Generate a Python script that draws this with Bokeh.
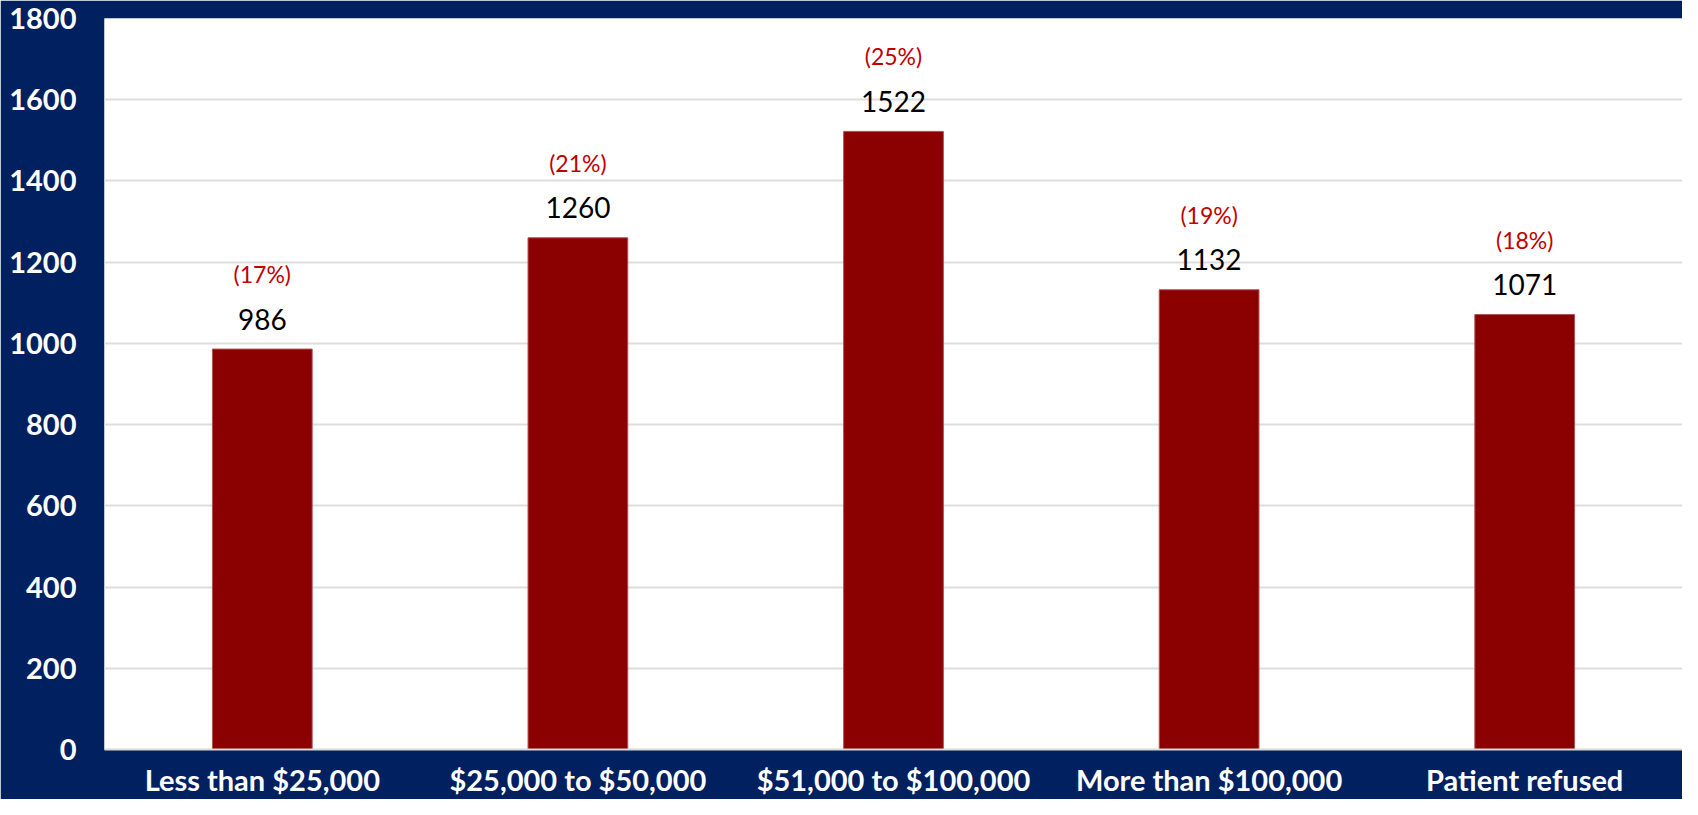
from bokeh.plotting import figure
from bokeh.models import ColumnDataSource, FixedTicker
from bokeh.core.properties import value
from bokeh.embed import file_html
from bokeh.resources import INLINE

categories = ["Less than $25,000", "$25,000 to $50,000", "$51,000 to $100,000",
              "More than $100,000", "Patient refused"]
counts = [986, 1260, 1522, 1132, 1071]
pct_labels = ["(17%)", "(21%)", "(25%)", "(19%)", "(18%)"]
y_ticks = [0, 200, 400, 600, 800, 1000, 1200, 1400, 1600, 1800]

NAVY = "#002060"
FONT = "Lato"

src = ColumnDataSource(dict(cat=categories, n=counts,
                            nlab=[str(v) for v in counts], plab=pct_labels))

p = figure(x_range=categories, y_range=(0, 1800), width=1682, height=799,
           output_backend="svg", toolbar_location=None,
           min_border_left=104, min_border_right=0, min_border_top=18,
           min_border_bottom=40)
p.border_fill_color = NAVY
p.background_fill_color = "white"
p.outline_line_color = None

p.vbar(x="cat", top="n", width=0.316, source=src, fill_color="#8B0000",
       line_color="#B05050", line_width=1)

p.text(x="cat", y="n", text="nlab", source=src, text_align="center",
       text_baseline="middle", y_offset=-30, text_color="black",
       text_font=value(FONT), text_font_size="28px")
p.text(x="cat", y="n", text="plab", source=src, text_align="center",
       text_baseline="middle", y_offset=-75, text_color="#C00000",
       text_font=value(FONT), text_font_size="23px")

p.yaxis.ticker = FixedTicker(ticks=y_ticks)
p.ygrid.ticker = FixedTicker(ticks=y_ticks)
p.ygrid.grid_line_color = "#DDDDDD"
p.ygrid.grid_line_width = 2
p.xgrid.grid_line_color = None

for ax in (p.xaxis, p.yaxis):
    ax.axis_line_color = None
    ax.major_tick_line_color = None
    ax.minor_tick_line_color = None
    ax.major_label_text_color = "white"
    ax.major_label_text_font = FONT
    ax.major_label_text_font_style = "bold"
    ax.major_label_text_font_size = "29px"

p.yaxis.major_label_standoff = 22
p.xaxis.major_label_standoff = 6
p.xaxis.axis_line_color = "#D9D9D9"
p.xaxis.axis_line_width = 2

open("out.html", "w").write(file_html(p, INLINE))
